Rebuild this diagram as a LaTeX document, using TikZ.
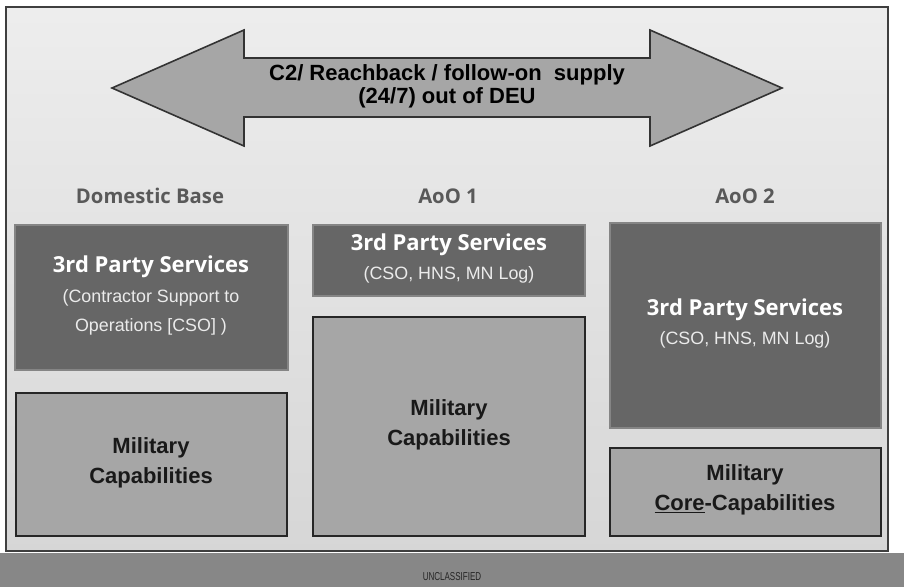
\documentclass[tikz,border=0pt]{standalone}
\usepackage{fontspec}
\setmainfont{Liberation Sans}
\newfontfamily\headfont{Open Sans}

\definecolor{frameline}{HTML}{3F3F3F}
\definecolor{svcgray}{HTML}{666666}
\definecolor{milgray}{HTML}{A6A6A6}
\definecolor{bargray}{HTML}{878787}
\definecolor{headgray}{HTML}{595959}

\begin{document}
\begin{tikzpicture}[x=0.75pt,y=-0.75pt,
  svcbox/.style={fill=svcgray, draw=svcgray!80!white, line width=0.8pt},
  milbox/.style={fill=milgray, draw=black!85, line width=1.2pt},
  headtext/.style={text=headgray, font=\headfont\bfseries\fontsize{15.2}{18}\selectfont},
  svctitle/.style={text=white, font=\headfont\bfseries\fontsize{16.5}{19}\selectfont},
  svcsub/.style={text=white!92!black, align=center, font=\fontsize{13.4}{21.75}\selectfont},
  miltext/.style={text=black!90, align=center, font=\bfseries\fontsize{16.5}{22.5}\selectfont}]
\useasboundingbox (0,0) rectangle (904,587);

% frame and classification bar
\coordinate (F1) at (6,7);
\coordinate (F2) at (888,551);
\fill[bargray] (0,553) rectangle (904,587);
\draw[frameline, line width=1.5pt, top color=black!7, bottom color=black!16] (F1) rectangle (F2);
\node[text=black!85] (unclass) at (452,577) {\scalebox{0.7}[1]{\fontsize{8.6}{10}\selectfont UNCLASSIFIED}};

% double arrow
\draw[draw=black!80, line width=1.2pt, fill=milgray]
  (112,88) -- (244,30) -- (244,58) -- (650,58) -- (650,30) -- (782,88)
  -- (650,146) -- (650,117) -- (244,117) -- (244,146) -- cycle;
\node[align=center, font=\bfseries\fontsize{16.5}{17.25}\selectfont] (supply) at (447,86)
  {C2/ Reachback / follow-on\ \ supply\\(24/7) out of DEU};

% column heads
\node[headtext] (dbhead) at (150,196) {Domestic Base};
\node[headtext] (aoo1head) at (448,196) {AoO 1};
\node[headtext] (aoo2head) at (745,196) {AoO 2};

% 3rd party boxes
\draw[svcbox] (15,225) rectangle (288,370);
\draw[svcbox] (313,225) rectangle (585,296);
\draw[svcbox] (610,223) rectangle (881,428);

\node[svctitle] (dbsvc) at (151,267) {3rd Party Services};
\node[svcsub] (dbsub) at (151,312.5) {(Contractor Support to\\Operations [CSO] )};
\node[svctitle] (aoo1svc) at (449,245) {3rd Party Services};
\node[svcsub] (aoo1sub) at (449,275) {(CSO, HNS, MN Log)};
\node[svctitle] (aoo2svc) at (745,310) {3rd Party Services};
\node[svcsub] (aoo2sub) at (745,340) {(CSO, HNS, MN Log)};

% military boxes
\draw[milbox] (16,393) rectangle (287,536);
\draw[milbox] (313,317) rectangle (585,536);
\draw[milbox] (610,448) rectangle (881,536);

\node[miltext] (dbmil) at (151,463) {Military\\Capabilities};
\node[miltext] (aoo1mil) at (449,424.5) {Military\\Capabilities};
\node[miltext] (aoo2mil) at (745,489.5) {Military\\\underline{Core}-Capabilities};
\end{tikzpicture}
\end{document}
